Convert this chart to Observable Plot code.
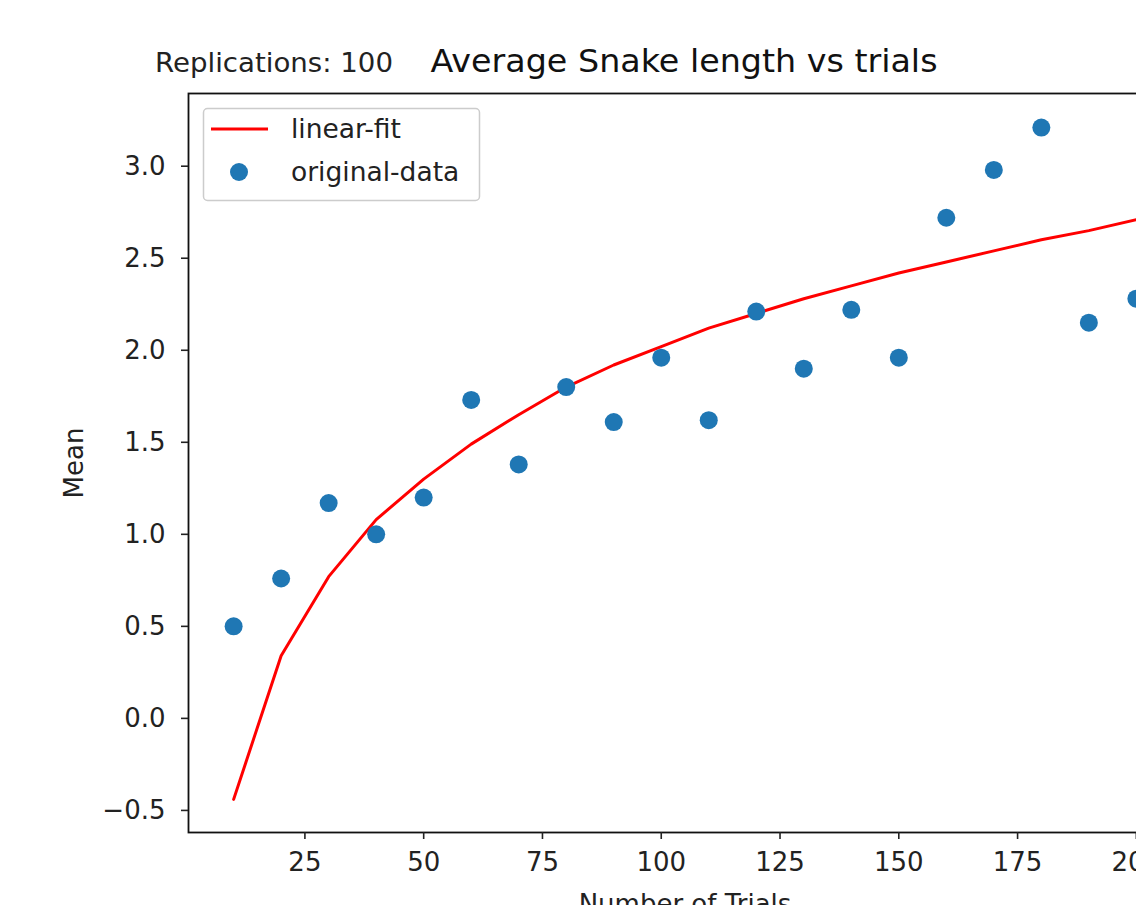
<!DOCTYPE html>
<html>
<head>
<meta charset="utf-8">
<script src="https://cdn.jsdelivr.net/npm/d3@7"></script>
<script src="https://cdn.jsdelivr.net/npm/@observablehq/plot@0.6"></script>
<style>
  html, body { margin: 0; padding: 0; background: #fff; width: 1136px; height: 905px; overflow: hidden; }
  #wrap { position: relative; width: 1136px; height: 905px; overflow: hidden; font-family: "DejaVu Sans", sans-serif; }
  #chart { position: absolute; left: 0; top: 0; width: 1250px; }
  #chart svg { max-width: none !important; width: 1250px !important; height: 950px !important; }
  #overlay { position: absolute; left: 0; top: 0; pointer-events: none; }
</style>
</head>
<body>
<div id="wrap">
  <div id="chart"></div>
  <svg id="overlay" width="1136" height="905" font-family="DejaVu Sans, sans-serif">
    <text x="155" y="72" font-size="26.5" fill="#222" textLength="238" lengthAdjust="spacingAndGlyphs">Replications: 100</text>
    <text x="684" y="72" font-size="32" text-anchor="middle" fill="#111" textLength="507" lengthAdjust="spacingAndGlyphs">Average Snake length vs trials</text>
    <g id="legend">
      <rect x="203.5" y="108.5" width="276" height="92" rx="4" ry="4" fill="rgba(255,255,255,0.8)" stroke="#cccccc" stroke-width="1.5"></rect>
      <line x1="211" y1="129" x2="268" y2="129" stroke="#ff0000" stroke-width="3"></line>
      <circle cx="239" cy="172" r="9" fill="#1f77b4"></circle>
      <text x="291" y="138" font-size="26.5" fill="#222">linear-fit</text>
      <text x="291" y="181" font-size="26.5" fill="#222">original-data</text>
    </g>
  </svg>
</div>
<script>
// ---- data ----
const trials = [10, 20, 30, 40, 50, 60, 70, 80, 90, 100, 110, 120, 130, 140, 150, 160, 170, 180, 190, 200];
const meanValues = [0.50, 0.76, 1.17, 1.00, 1.20, 1.73, 1.38, 1.80, 1.61, 1.96, 1.62, 2.21, 1.90, 2.22, 1.96, 2.72, 2.98, 3.21, 2.15, 2.28];
const fitValues = [-0.44, 0.34, 0.77, 1.08, 1.30, 1.49, 1.65, 1.80, 1.92, 2.02, 2.12, 2.20, 2.28, 2.35, 2.42, 2.48, 2.54, 2.60, 2.65, 2.71];
const xTicks = [25, 50, 75, 100, 125, 150, 175, 200];
const yTicks = [-0.5, 0.0, 0.5, 1.0, 1.5, 2.0, 2.5, 3.0];

const points = trials.map((t, i) => ({trial: t, mean: meanValues[i]}));
const fit = trials.map((t, i) => ({trial: t, value: fitValues[i]}));

const chart = Plot.plot({
  width: 1250,
  height: 950,
  marginLeft: 188,
  marginRight: 69,
  marginTop: 93,
  marginBottom: 118,
  style: {fontFamily: "DejaVu Sans, sans-serif", color: "#222", background: "transparent", maxWidth: "none"},
  x: {domain: [0.5, 209.5]},
  y: {domain: [-0.62, 3.395]},
  marks: [
    Plot.line(fit, {x: "trial", y: "value", stroke: "#ff0000", strokeWidth: 3}),
    Plot.dot(points, {x: "trial", y: "mean", r: 9, fill: "#1f77b4", stroke: "none"}),
    Plot.frame({stroke: "#111", strokeWidth: 1.8}),
    Plot.axisX({ticks: xTicks, tickSize: 7, tickPadding: 13, fontSize: 26, strokeWidth: 1.6,
      tickFormat: d3.format("d"),
      label: "Number of Trials", labelAnchor: "center", labelArrow: "none", labelOffset: 80}),
    Plot.axisY({ticks: yTicks, tickSize: 7, tickPadding: 16, fontSize: 26, strokeWidth: 1.6,
      tickFormat: d3.format(".1f"),
      label: "Mean", labelAnchor: "center", labelArrow: "none", labelOffset: 124})
  ]
});
document.getElementById("chart").appendChild(chart);
</script>
</body>
</html>
